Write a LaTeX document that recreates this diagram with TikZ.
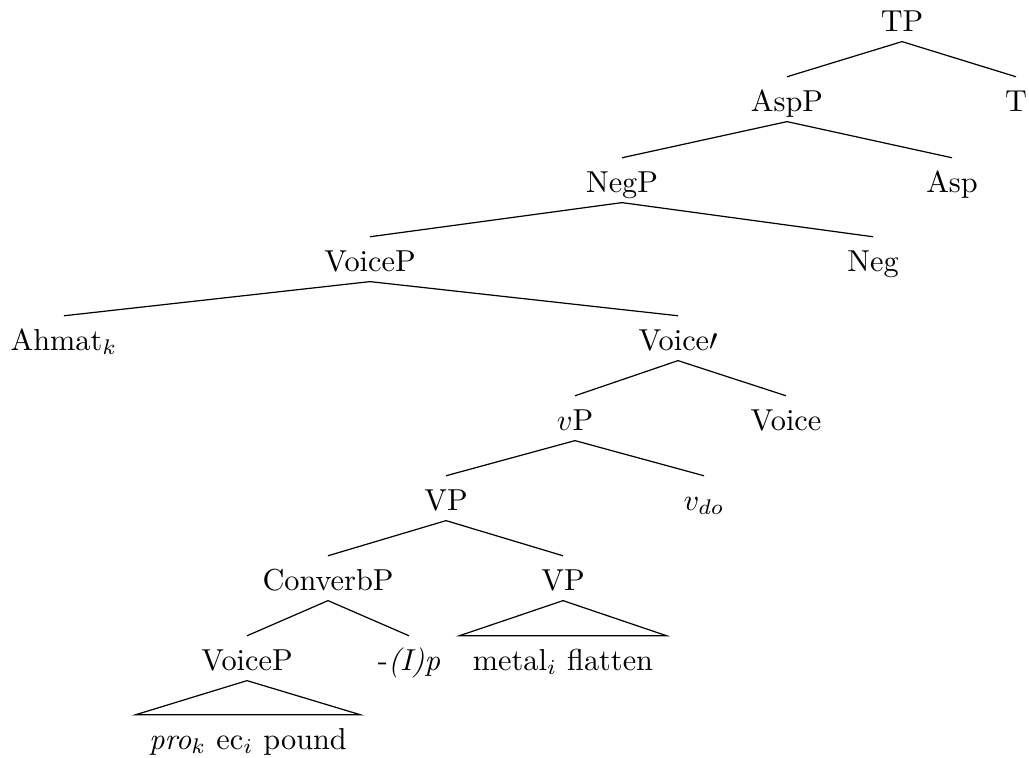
\documentclass[tikz,border=0pt]{standalone}
\begin{document}
\begin{tikzpicture}[x=0.33pt,y=-0.33pt,
  lbl/.style={anchor=base, inner sep=0pt, text height=11.1pt, text depth=3.3pt},
  roof/.style={lbl, inner xsep=4.3pt},
  branch/.style={line width=0.4pt}]
\useasboundingbox (0,0) rectangle (1029,757);
% nodes
\node[lbl] (tp)    at (902,31)  {TP};
\node[lbl] (aspp)  at (787,111) {AspP};
\node[lbl] (t)     at (1016,111){T};
\node[lbl] (negp)  at (622,192) {NegP};
\node[lbl] (asp)   at (952,192) {Asp};
\node[lbl] (voicep)at (370,271) {VoiceP};
\node[lbl] (neg)   at (873,271) {Neg};
\node[lbl] (ahmat) at (64,350)  {Ahmat$_k$};
\node[lbl] (voicebar) at (678,350) {Voice$\prime$};
\node[lbl] (vp)    at (575,430) {$v$P};
\node[lbl] (voice) at (786,430) {Voice};
\node[lbl] (VP)    at (446,510) {VP};
\node[lbl] (vdo)   at (704,510) {$v_{do}$};
\node[lbl] (conv)  at (328,590) {ConverbP};
\node[lbl] (VPb)   at (563,590) {VP};
\node[lbl] (voicepb) at (247,670) {VoiceP};
\node[lbl] (ip)    at (409,670) {-\textit{(I)p}};
\node[roof] (metal) at (563,670) {metal$_i$ flatten};
\node[roof] (pro)  at (248,749) {\textit{pro}$_k$ ec$_i$ pound};
% edges
\draw[branch] (tp.south) -- (aspp.north);
\draw[branch] (tp.south) -- (t.north);
\draw[branch] (aspp.south) -- (negp.north);
\draw[branch] (aspp.south) -- (asp.north);
\draw[branch] (negp.south) -- (voicep.north);
\draw[branch] (negp.south) -- (neg.north);
\draw[branch] (voicep.south) -- (ahmat.north);
\draw[branch] (voicep.south) -- (voicebar.north);
\draw[branch] (voicebar.south) -- (vp.north);
\draw[branch] (voicebar.south) -- (voice.north);
\draw[branch] (vp.south) -- (VP.north);
\draw[branch] (vp.south) -- (vdo.north);
\draw[branch] (VP.south) -- (conv.north);
\draw[branch] (VP.south) -- (VPb.north);
\draw[branch] (conv.south) -- (voicepb.north);
\draw[branch] (conv.south) -- (ip.north);
\draw[branch] (VPb.south) -- (metal.north west) -- (metal.north east) -- cycle;
\draw[branch] (voicepb.south) -- (pro.north west) -- (pro.north east) -- cycle;
\end{tikzpicture}
\end{document}
